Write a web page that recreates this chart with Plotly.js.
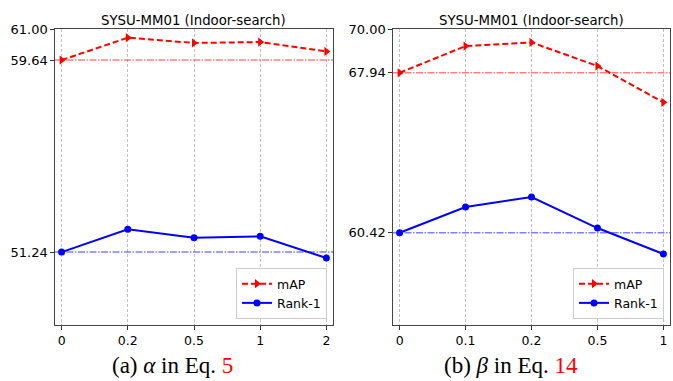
<!DOCTYPE html>
<html>
<head>
<meta charset="utf-8">
<script src="https://cdn.plot.ly/plotly-3.0.1.min.js"></script>
<style>html,body{margin:0;padding:0;background:#fff;}#chart{width:673px;height:381px;}</style>
</head>
<body>
<div id="chart"></div>
<script>
// ---- data ----
const alphaLabels = ['0', '0.2', '0.5', '1', '2'];
const alphaMAP    = [59.64, 60.62, 60.39, 60.43, 60.02];
const alphaRank1  = [51.24, 52.24, 51.87, 51.93, 50.98];

const betaLabels  = ['0', '0.1', '0.2', '0.5', '1'];
const betaMAP     = [67.94, 69.20, 69.37, 68.26, 66.55];
const betaRank1   = [60.42, 61.63, 62.10, 60.64, 59.42];

const alphaYTicks = [51.24, 59.64, 61.00];
const betaYTicks  = [60.42, 67.94, 70.00];

const titleText = 'SYSU-MM01 (Indoor-search)';
const captionA = '(a) <i>α</i> in Eq. <span style="color:#ff0000">5</span>';
const captionB = '(b) <i>β</i> in Eq. <span style="color:#ff0000">14</span>';

// ---- styling ----
const FONT = 'DejaVu Sans, sans-serif';
const idx = a => a.map((_, i) => i);

function mapTrace(x, y, xa, ya, leg) {
  return {x: x, y: y, xaxis: xa, yaxis: ya, legend: leg, name: 'mAP', mode: 'lines+markers',
    line: {color: '#ff0000', width: 2, dash: '6px,3px'},
    marker: {symbol: 'triangle-right', size: 8, color: '#ff0000'}};
}
function rankTrace(x, y, xa, ya, leg) {
  return {x: x, y: y, xaxis: xa, yaxis: ya, legend: leg, name: 'Rank-1', mode: 'lines+markers',
    line: {color: '#0000ff', width: 2},
    marker: {symbol: 'circle', size: 7, color: '#0000ff'}};
}

const data = [
  mapTrace(idx(alphaLabels), alphaMAP, 'x', 'y', 'legend'),
  rankTrace(idx(alphaLabels), alphaRank1, 'x', 'y', 'legend'),
  mapTrace(idx(betaLabels), betaMAP, 'x2', 'y2', 'legend2'),
  rankTrace(idx(betaLabels), betaRank1, 'x2', 'y2', 'legend2')
];

function xAxis(labels, domain, anchor) {
  return {domain: domain, anchor: anchor, range: [-0.1, labels.length - 0.9],
    tickvals: idx(labels), ticktext: labels, ticks: 'outside', ticklen: 3.5, tickcolor: '#333',
    showgrid: true, gridcolor: '#b0b0b0', griddash: '3px,2px', gridwidth: 0.8,
    showline: true, linecolor: '#444', linewidth: 1.2, mirror: true, zeroline: false,
    tickfont: {family: FONT, size: 12.5, color: '#000'}};
}
function yAxis(ticks, range, domain, anchor) {
  return {domain: domain, anchor: anchor, range: range,
    tickvals: ticks, ticktext: ticks.map(v => v.toFixed(2)), ticks: 'outside', ticklen: 3.5, tickcolor: '#333',
    showgrid: false, showline: true, linecolor: '#444', linewidth: 1.2, mirror: true, zeroline: false,
    tickfont: {family: FONT, size: 13, color: '#000'}};
}

const yDom = [1 - 325 / 381, 1 - 29 / 381];

function hline(xref, yref, y, color) {
  return {type: 'line', xref: xref + ' domain', yref: yref, x0: 0, x1: 1, y0: y, y1: y,
    line: {color: color, width: 1.5, dash: '7px,1.5px,1.5px,1.5px'}, layer: 'above'};
}

function legendBox(xRight) {
  return {x: xRight, y: 1 - 319 / 381, xanchor: 'right', yanchor: 'bottom',
    bgcolor: 'rgba(255,255,255,0.85)', bordercolor: '#cccccc', borderwidth: 1,
    font: {family: FONT, size: 12.5, color: '#000'}, tracegroupgap: 0, itemwidth: 30};
}

const layout = {
  width: 673, height: 381,
  margin: {l: 0, r: 0, t: 0, b: 0},
  paper_bgcolor: '#fff', plot_bgcolor: '#fff',
  showlegend: true,
  xaxis: xAxis(alphaLabels, [55 / 673, 333 / 673], 'y'),
  yaxis: yAxis(alphaYTicks, [48.05, 61.0], yDom, 'x'),
  xaxis2: xAxis(betaLabels, [393 / 673, 670 / 673], 'y2'),
  yaxis2: yAxis(betaYTicks, [56.08, 70.0], yDom, 'x2'),
  legend: legendBox(327 / 673),
  legend2: legendBox(664 / 673),
  shapes: [
    hline('x', 'y', alphaMAP[0], 'rgba(255,0,0,0.5)'),
    hline('x', 'y', alphaRank1[0], 'rgba(0,0,255,0.5)'),
    hline('x2', 'y2', betaMAP[0], 'rgba(255,0,0,0.5)'),
    hline('x2', 'y2', betaRank1[0], 'rgba(0,0,255,0.5)')
  ],
  annotations: [
    {text: titleText, xref: 'paper', yref: 'paper', x: 194 / 673, y: 1 - 20 / 381, xanchor: 'center', yanchor: 'middle', showarrow: false, font: {family: FONT, size: 13.3, color: '#000'}},
    {text: titleText, xref: 'paper', yref: 'paper', x: 531 / 673, y: 1 - 20 / 381, xanchor: 'center', yanchor: 'middle', showarrow: false, font: {family: FONT, size: 13.3, color: '#000'}},
    {text: captionA, xref: 'paper', yref: 'paper', x: 172 / 673, y: 1 - 365 / 381, xanchor: 'center', yanchor: 'middle', showarrow: false, font: {family: 'Liberation Serif, serif', size: 23, color: '#000'}},
    {text: captionB, xref: 'paper', yref: 'paper', x: 511 / 673, y: 1 - 365 / 381, xanchor: 'center', yanchor: 'middle', showarrow: false, font: {family: 'Liberation Serif, serif', size: 23, color: '#000'}}
  ]
};

Plotly.newPlot('chart', data, layout, {displayModeBar: false, staticPlot: true});
</script>
</body>
</html>
